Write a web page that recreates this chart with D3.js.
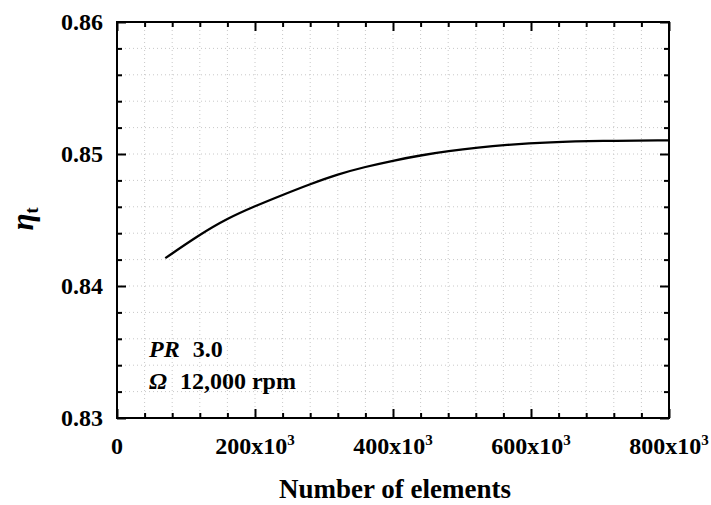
<!DOCTYPE html>
<html>
<head>
<meta charset="utf-8">
<script src="https://cdn.jsdelivr.net/npm/d3@7"></script>
<style>
  body { margin: 0; background: #fff; }
  text { font-family: "Liberation Serif", "Times New Roman", serif; font-weight: bold; }
</style>
</head>
<body>
<svg id="chart" width="711" height="505"></svg>
<script>
// curve (elements, efficiency)
const elements = [70000, 120000, 160000, 200000, 240000, 280000, 320000, 360000, 400000, 440000, 480000, 525000, 560000, 628000, 700000, 800000];
const etaT = [0.84211, 0.84390, 0.84512, 0.84605, 0.84690, 0.84772, 0.84847, 0.84903, 0.84950, 0.84990, 0.85022, 0.85050, 0.85068, 0.85090, 0.85100, 0.85103];

const xMajor = [0, 200000, 400000, 600000, 800000];
const xLabels = ["0", "200x10", "400x10", "600x10", "800x10"];
const yMajor = [0.83, 0.84, 0.85, 0.86];
const yLabels = ["0.83", "0.84", "0.85", "0.86"];

const notes = [
  { sym: "PR", rest: "3.0" },
  { sym: "\u03A9", rest: "12,000 rpm" }
];

const margin = { left: 117, right: 42, top: 22, bottom: 87 };
const svg = d3.select("#chart"),
    width = +svg.attr("width"),
    height = +svg.attr("height");
const iw = width - margin.left - margin.right,
    ih = height - margin.top - margin.bottom;

const x = d3.scaleLinear().domain([0, 800000]).range([0, iw]);
const y = d3.scaleLinear().domain([0.83, 0.86]).range([ih, 0]);

const g = svg.append("g").attr("transform", `translate(${margin.left},${margin.top})`);

const xMinor = d3.range(0, 800001, 40000);
const yMinor = d3.range(0, 16).map(i => 0.83 + i * 0.002);

// dotted grid
g.append("g").selectAll("line")
  .data(xMinor.slice(1, -1))
  .join("line")
  .attr("x1", d => x(d)).attr("x2", d => x(d))
  .attr("y1", 0).attr("y2", ih)
  .attr("stroke", "#c8c8c8").attr("stroke-width", 1)
  .attr("stroke-dasharray", "1,3");
g.append("g").selectAll("line")
  .data(yMinor.slice(1, -1))
  .join("line")
  .attr("x1", 0).attr("x2", iw)
  .attr("y1", d => y(d)).attr("y2", d => y(d))
  .attr("stroke", "#c8c8c8").attr("stroke-width", 1)
  .attr("stroke-dasharray", "1,3");

// ticks, pointing inward on all four sides
const isMajorX = d => Math.abs(d % 200000) < 1;
const isMajorY = d => Math.abs(Math.round(d * 1000) % 10) < 0.5;

function tickAxis(axisFn, scale, vals, isMajor, transform) {
  vals.forEach(v => {
    const a = axisFn(scale).tickValues([v]).tickFormat("").tickSizeOuter(0)
      .tickSizeInner(isMajor(v) ? -9 : -5);
    const ax = g.append("g").attr("transform", transform).call(a);
    ax.select(".domain").remove();
    ax.selectAll("line").attr("stroke", "#000").attr("stroke-width", 2);
  });
}
tickAxis(d3.axisBottom, x, xMinor, isMajorX, `translate(0,${ih})`);
tickAxis(d3.axisTop, x, xMinor, isMajorX, "translate(0,0)");
tickAxis(d3.axisLeft, y, yMinor, isMajorY, "translate(0,0)");
tickAxis(d3.axisRight, y, yMinor, isMajorY, `translate(${iw},0)`);

// frame
g.append("rect").attr("width", iw).attr("height", ih)
  .attr("fill", "none").attr("stroke", "#000").attr("stroke-width", 2);

// tick labels
g.selectAll("text.yl").data(yMajor).join("text")
  .attr("class", "yl")
  .attr("x", -14).attr("y", d => y(d)).attr("dy", "0.35em")
  .attr("text-anchor", "end").attr("font-size", 24)
  .text((d, i) => yLabels[i]);

const xl = g.selectAll("text.xl").data(xMajor).join("text")
  .attr("class", "xl")
  .attr("x", d => x(d)).attr("y", ih + 36)
  .attr("text-anchor", "middle").attr("font-size", 24);
xl.append("tspan").text((d, i) => xLabels[i]);
xl.filter((d, i) => i > 0).append("tspan")
  .attr("dy", -9).attr("font-size", 15).text("3");

// axis titles
svg.append("text")
  .attr("x", margin.left + iw / 2 + 2).attr("y", 498)
  .attr("text-anchor", "middle").attr("font-size", 27)
  .text("Number of elements");

const yt = svg.append("text")
  .attr("transform", "translate(33,219) rotate(-90)")
  .attr("text-anchor", "middle")
  .style("font-size", "31px").style("font-style", "italic");
yt.append("tspan").text("\u03B7");
yt.append("tspan").attr("dy", 5).style("font-size", "18px").style("font-style", "normal").text("t");

// data curve
const pts = elements.map((e, i) => [e, etaT[i]]);
g.append("path").datum(pts)
  .attr("fill", "none").attr("stroke", "#000").attr("stroke-width", 2.3)
  .attr("d", d3.line().x(d => x(d[0])).y(d => y(d[1])).curve(d3.curveBasis));

// annotation
notes.forEach((n, i) => {
  const t = g.append("text")
    .attr("x", 32).attr("y", 335 + i * 32)
    .attr("font-size", 24);
  t.append("tspan").attr("font-style", "italic").text(n.sym);
  t.append("tspan").attr("dx", 13).text(n.rest);
});
</script>
</body>
</html>
